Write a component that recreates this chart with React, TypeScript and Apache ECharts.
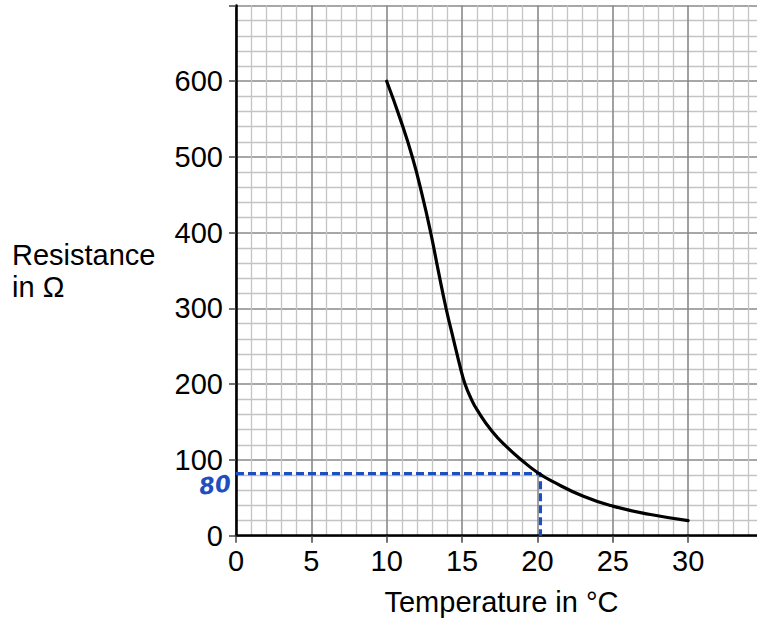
import React, { useEffect, useRef } from "react";
import * as echarts from "echarts";

// Curve: temperature (°C) -> resistance (Ω)
const temperatureC = [10, 10.9, 11.7, 12.35, 12.92, 13.4, 13.94, 14.42, 14.91, 15.2, 15.6, 16, 17, 18, 19, 20, 21, 23.05, 25, 27.5, 30];
const resistanceOhm = [600, 550, 500, 450, 400, 352, 300, 260, 220, 200, 181, 166, 137.5, 116.5, 99, 83.5, 71.7, 52, 39, 28, 20];

// Read-off construction (blue dashed lines)
const readTemperature = 20.2;
const readResistance = 82;
const readLabel = "80";

const xAxisTitle = "Temperature in °C";
const yAxisTitle = ["Resistance", "in Ω"];
const yLabelHidden = [700];

const FONT = "'Liberation Sans', Arial, sans-serif";

export default function App() {
  const ref = useRef<HTMLDivElement>(null);

  useEffect(() => {
    if (!ref.current) return;
    const chart = echarts.init(ref.current, undefined, { renderer: "svg" });

    const curve = temperatureC.map((t, i) => [t, resistanceOhm[i]]);
    const readLine = [
      [0, readResistance],
      [readTemperature, readResistance],
      [readTemperature, 0],
    ];

    chart.setOption({
      animation: false,
      backgroundColor: "#ffffff",
      grid: {
        left: 236,
        top: 5.5,
        width: 527.5,
        bottom: 85.3,
        containLabel: false,
        outerBoundsMode: "none",
      },
      xAxis: {
        type: "value",
        min: 0,
        max: 35,
        interval: 5,
        axisLine: { show: true, onZero: false, lineStyle: { color: "#000", width: 2.6 } },
        axisTick: { show: true, length: 7, lineStyle: { color: "#444", width: 1.5 } },
        axisLabel: {
          margin: 11,
          fontSize: 29,
          fontFamily: FONT,
          color: "#000",
          formatter: (v: number) => (v % 5 === 0 && v <= 30 ? String(v) : ""),
        },
        splitLine: { show: true, lineStyle: { color: "#8a8a8a", width: 1.6 } },
        minorTick: { show: false, splitNumber: 5 },
        minorSplitLine: { show: true, lineStyle: { color: "#c4c4c4", width: 1.3 } },
      },
      yAxis: {
        type: "value",
        min: 0,
        max: 700,
        interval: 100,
        axisLine: { show: true, onZero: false, lineStyle: { color: "#000", width: 2.6 } },
        axisTick: { show: true, length: 7, lineStyle: { color: "#444", width: 1.5 } },
        axisLabel: {
          margin: 13,
          fontSize: 29,
          fontFamily: FONT,
          color: "#000",
          formatter: (v: number) => (yLabelHidden.includes(v) ? "" : String(v)),
        },
        splitLine: { show: true, lineStyle: { color: "#8a8a8a", width: 1.6 } },
        minorTick: { show: false, splitNumber: 5 },
        minorSplitLine: { show: true, lineStyle: { color: "#c4c4c4", width: 1.3 } },
      },
      series: [
        {
          type: "line",
          data: readLine,
          symbol: "none",
          lineStyle: { color: "#1f4fbf", width: 3.2, type: [8, 4] },
          z: 3,
        },
        {
          type: "line",
          data: curve,
          symbol: "none",
          smooth: 0.5,
          lineStyle: { color: "#000", width: 3.2, cap: "round" },
          z: 4,
        },
      ],
      graphic: [
        {
          type: "text",
          left: 12,
          top: 240,
          style: { text: yAxisTitle[0], font: `29px ${FONT}`, fill: "#000" },
        },
        {
          type: "text",
          left: 12,
          top: 272,
          style: { text: yAxisTitle[1], font: `29px ${FONT}`, fill: "#000" },
        },
        {
          type: "text",
          x: 501.5,
          y: 602,
          style: {
            text: xAxisTitle,
            font: `29px ${FONT}`,
            fill: "#000",
            align: "center",
            verticalAlign: "middle",
          },
        },
        {
          type: "text",
          x: 215,
          y: 485,
          rotation: 0.12,
          style: {
            text: readLabel,
            font: `italic bold 23px 'DejaVu Sans', sans-serif`,
            fill: "#1f4fbf",
            align: "center",
            verticalAlign: "middle",
          },
        },
      ],
    });

    return () => chart.dispose();
  }, []);

  return (
    <div
      ref={ref}
      style={{ position: "fixed", left: 0, top: 0, width: 757, height: 621, background: "#fff" }}
    />
  );
}
